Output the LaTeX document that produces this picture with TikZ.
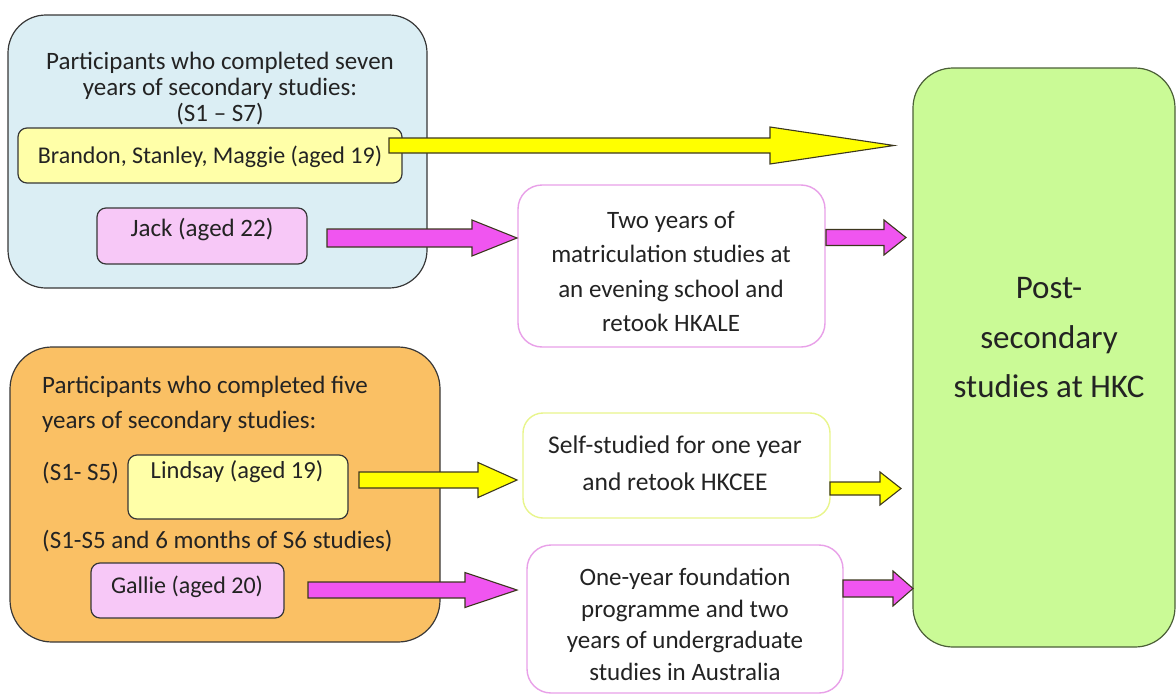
\documentclass[tikz,border=0pt]{standalone}
\usepackage{fontspec}
\setmainfont{Carlito}
\usetikzlibrary{calc}
\definecolor{bluefill}{RGB}{219,238,244}
\definecolor{orangefill}{RGB}{250,192,100}
\definecolor{greenfill}{RGB}{202,250,150}
\definecolor{paleyellow}{RGB}{255,255,168}
\definecolor{palepink}{RGB}{247,200,247}
\definecolor{arrowyellow}{RGB}{255,255,0}
\definecolor{arrowmagenta}{RGB}{240,85,240}
\definecolor{pinkborder}{RGB}{232,160,232}
\definecolor{yellowborder}{RGB}{232,245,140}
\definecolor{edgegray}{RGB}{55,55,55}
\definecolor{greenedge}{RGB}{75,95,55}
\definecolor{arrowedge}{RGB}{60,55,30}
\definecolor{txt}{RGB}{35,35,35}
% #1 style, #2 tail, #3 tip, #4 shaft half width, #5 head half width, #6 head length
\newcommand\blockarrow[6]{%
  \draw[#1] let \p1=(#2), \p2=(#3) in
    (\x1,\y1+#4) -- (\x2-#6,\y1+#4) -- (\x2-#6,\y1+#5) -- (\x2,\y2)
    -- (\x2-#6,\y1-#5) -- (\x2-#6,\y1-#4) -- (\x1,\y1-#4) -- cycle;}
\begin{document}
\begin{tikzpicture}[x=1pt,y=-1pt,
  boxbase/.style={rectangle, draw=edgegray, line width=1.2pt, inner sep=0pt},
  bigbox/.style={boxbase, rounded corners=38pt},
  smallbox/.style={boxbase, rounded corners=9pt},
  procbox/.style={rectangle, fill=white, line width=1.4pt, rounded corners=24pt, inner sep=0pt},
  txtnode/.style={text=txt, inner sep=0pt, align=center},
  yarrow/.style={fill=arrowyellow, draw=arrowedge, line width=1.1pt, line join=miter},
  marrow/.style={fill=arrowmagenta, draw=arrowedge, line width=1.1pt, line join=miter},
]
\useasboundingbox (0,0) rectangle (1176,696);

% container boxes
\node[bigbox, fill=bluefill, minimum width=419pt, minimum height=273pt] (blue) at (217.5,151.5) {};
\node[bigbox, fill=orangefill, rounded corners=42pt, minimum width=430pt, minimum height=295pt] (orange) at (225,494.5) {};
\node[bigbox, fill=greenfill, draw=greenedge, rounded corners=40pt, minimum width=262pt, minimum height=579pt] (green) at (1044,357.5) {};

% process boxes
\node[procbox, draw=pinkborder, minimum width=307pt, minimum height=162pt] (twoyears) at (671.5,266) {};
\node[procbox, draw=yellowborder, rounded corners=20pt, minimum width=307pt, minimum height=105pt] (selfstudy) at (676.5,465.5) {};
\node[procbox, draw=pinkborder, minimum width=316pt, minimum height=148pt] (oneyear) at (685,619) {};

% participant boxes
\node[smallbox, fill=paleyellow, minimum width=384pt, minimum height=55pt] (brandon) at (210,155.5) {};
\node[smallbox, fill=palepink, minimum width=210pt, minimum height=56pt] (jack) at (202,236) {};
\node[smallbox, fill=paleyellow, minimum width=220pt, minimum height=64pt] (lindsay) at (238,487) {};
\node[smallbox, fill=palepink, minimum width=193pt, minimum height=55pt] (gallie) at (187.5,590.5) {};

% texts
\node[txtnode, font=\fontsize{25}{26}\selectfont] (bluetitle) at (220,89)
  {Participants who completed seven\\years of secondary studies:\\(S1 -- S7)};
\node[txtnode, font=\fontsize{24}{28}\selectfont] (brandontxt) at (210,157) {Brandon, Stanley, Maggie (aged 19)};
\node[txtnode, font=\fontsize{25}{28}\selectfont] (jacktxt) at (202,230) {Jack (aged 22)};
\node[txtnode, align=left, anchor=west, font=\fontsize{25}{35}\selectfont] (orangetitle) at (42,404.5)
  {Participants who completed five\\years of secondary studies:};
\node[txtnode, anchor=west, font=\fontsize{25}{28}\selectfont] (sfive) at (42,473) {(S1- S5)};
\node[txtnode, font=\fontsize{24.5}{28}\selectfont] (lindsaytxt) at (237,472) {Lindsay (aged 19)};
\node[txtnode, anchor=west, font=\fontsize{25}{28}\selectfont] (ssix) at (42,541) {(S1-S5 and 6 months of S6 studies)};
\node[txtnode, font=\fontsize{24}{28}\selectfont] (gallietxt) at (187,587) {Gallie (aged 20)};
\node[txtnode, font=\fontsize{25}{34.3}\selectfont] (twoyearstxt) at (671,271.5)
  {Two years of\\matriculation studies at\\an evening school and\\retook HKALE};
\node[txtnode, font=\fontsize{25.5}{37}\selectfont] (selfstudytxt) at (675,463.5)
  {Self-studied for one year\\and retook HKCEE};
\node[txtnode, font=\fontsize{25}{31.7}\selectfont] (oneyeartxt) at (685,624.5)
  {One-year foundation\\programme and two\\years of undergraduate\\studies in Australia};
\node[txtnode, font=\fontsize{33}{49.5}\selectfont] (greentxt) at (1049,338)
  {Post-\\secondary\\studies at HKC};

% arrow end points
\coordinate (a1) at (389,145.5);  \coordinate (a2) at (894,145.5);
\coordinate (b1) at (327,238);    \coordinate (b2) at (517,238);
\coordinate (c1) at (826,237.5);  \coordinate (c2) at (906,237.5);
\coordinate (d1) at (359,480);    \coordinate (d2) at (517,480);
\coordinate (e1) at (830,488.5);  \coordinate (e2) at (901,488.5);
\coordinate (f1) at (308,590);    \coordinate (f2) at (517,590);
\coordinate (g1) at (843,588.5);  \coordinate (g2) at (913,588.5);

\blockarrow{yarrow}{a1}{a2}{7.5pt}{18.5pt}{124pt}
\blockarrow{marrow}{b1}{b2}{9pt}{18pt}{45pt}
\blockarrow{marrow}{c1}{c2}{8pt}{17.5pt}{22pt}
\blockarrow{yarrow}{d1}{d2}{8pt}{17.5pt}{39pt}
\blockarrow{yarrow}{e1}{e2}{6.5pt}{16.5pt}{21pt}
\blockarrow{marrow}{f1}{f2}{8pt}{17.5pt}{52pt}
\blockarrow{marrow}{g1}{g2}{8.5pt}{17.5pt}{20pt}
\end{tikzpicture}
\end{document}
